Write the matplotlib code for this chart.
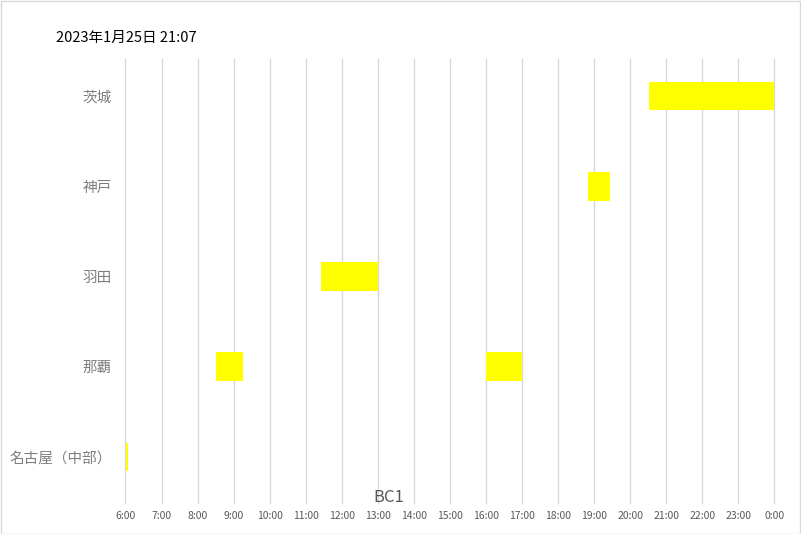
import matplotlib
matplotlib.use('Agg')
import matplotlib.pyplot as plt
from matplotlib.patches import Rectangle

plt.rcParams['font.family'] = ['Noto Sans CJK JP', 'DejaVu Sans']

title = '2023年1月25日 21:07'
axis_title = 'BC1'

# categories from bottom to top
airports = ['名古屋（中部）', '那覇', '羽田', '神戸', '茨城']

# one bar per entry: airport, start, end
bar_airport = ['茨城', '神戸', '羽田', '那覇', '那覇', '名古屋（中部）']
bar_start = ['20:32', '18:50', '11:25', '8:30', '16:00', '6:00']
bar_end = ['24:00', '19:27', '13:00', '9:15', '17:00', '6:04']

hours = list(range(6, 25))


def to_hours(s):
    h, m = s.split(':')
    return int(h) + int(m) / 60


fig = plt.figure(figsize=(8.01, 5.34), dpi=100)
ax = fig.add_axes([125.5 / 801, 31 / 534, (774.3 - 125.5) / 801, (503 - 59) / 534])

for name, s, e in zip(bar_airport, bar_start, bar_end):
    y = airports.index(name)
    x0 = to_hours(s)
    x1 = to_hours(e)
    ax.barh(y, x1 - x0, left=x0, height=0.32, color='#FFFF00', zorder=3)

ax.set_xlim(6, 24)
ax.set_ylim(-0.51, 4.41)
ax.set_xticks(hours)
ax.set_xticklabels([f'{h % 24}:00' for h in hours], fontsize=7.5, color='#595959')
ax.set_yticks(range(len(airports)))
ax.set_yticklabels(airports, fontsize=10.5, color='#7f7f7f')
ax.tick_params(axis='both', length=0)
ax.tick_params(axis='y', pad=10)
ax.tick_params(axis='x', pad=6)
for h in hours:
    ax.axvline(h, color='#d9d9d9', linewidth=1, zorder=0, clip_on=False)
for sp in ax.spines.values():
    sp.set_visible(False)

fig.text(56 / 801, 1 - 38 / 534, title, fontsize=10.5, color='black', va='center', ha='left')
fig.text(389 / 801, 1 - 497 / 534, axis_title, fontsize=12, color='#595959', va='center', ha='center')

fig.patches.append(Rectangle((0.5 / 801, 0.5 / 534), 1 - 1.5 / 801, 1 - 1.5 / 534,
                             transform=fig.transFigure, fill=False, edgecolor='#d9d9d9', linewidth=1))

plt.savefig('out.png', dpi=100)
